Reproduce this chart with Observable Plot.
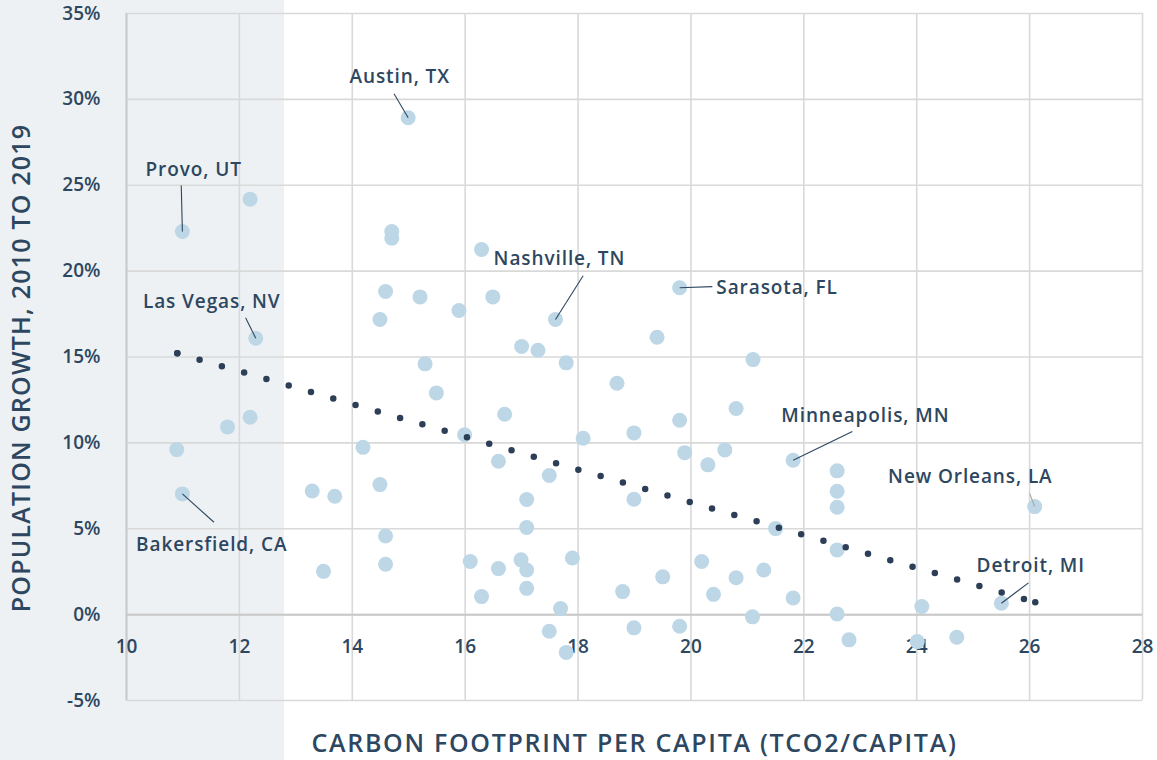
<!DOCTYPE html>
<html><head><meta charset="utf-8">
<script src="https://cdn.jsdelivr.net/npm/d3@7"></script>
<script src="https://cdn.jsdelivr.net/npm/@observablehq/plot@0.6"></script>
<style>
html,body{margin:0;padding:0;background:#fff;}
#chart{width:1157px;height:760px;}
</style></head><body><div id="chart"></div>
<script>
// ---- data ----
const carbon = [10.99,12.19,12.29,12.19,11.79,10.89,10.99,
  14.99,14.70,14.70,16.29,14.59,15.20,14.49,15.89,16.49,17.60,17.00,17.29,17.79,15.29,15.49,16.70,15.99,16.59,14.19,14.49,13.29,13.69,17.49,17.09,17.09,14.59,14.59,13.49,16.09,16.59,16.99,17.09,17.09,16.29,17.90,17.69,17.49,17.79,
  19.80,19.40,18.69,18.09,18.99,19.80,20.80,21.10,19.89,20.30,20.60,21.81,18.99,21.50,22.59,22.59,22.59,22.59,20.19,19.50,20.80,21.29,18.79,20.40,21.81,21.09,22.59,18.99,19.80,22.80,24.09,24.01,24.71,25.50,26.09];
const growth = [22.31,24.19,16.09,11.49,10.93,9.61,7.03,
  28.93,22.31,21.92,21.26,18.81,18.50,17.18,17.71,18.50,17.18,15.61,15.39,14.66,14.60,12.91,11.67,10.47,8.93,9.74,7.57,7.20,6.89,8.10,6.70,5.07,4.58,2.93,2.52,3.09,2.68,3.19,2.60,1.53,1.05,3.30,0.35,-0.97,-2.20,
  19.03,16.15,13.47,10.27,10.58,11.32,12.00,14.85,9.43,8.72,9.59,8.99,6.72,5.01,8.37,7.18,6.25,3.77,3.09,2.20,2.15,2.60,1.34,1.18,0.97,-0.13,0.04,-0.77,-0.68,-1.47,0.47,-1.57,-1.32,0.66,6.29];

const trendX = [10.9, 26.1];
const trendY = [15.22, 0.72];

const xTicks = [10,12,14,16,18,20,22,24,26,28];
const yTicks = [-5,0,5,10,15,20,25,30,35];
const shadeLimit = 12.8;

const annCity   = ["Provo, UT","Las Vegas, NV","Bakersfield, CA","Austin, TX","Nashville, TN","Sarasota, FL","Minneapolis, MN","New Orleans, LA","Detroit, MI"];
const annPtX    = [10.99,12.29,10.99,14.99,17.60,19.80,21.81,26.09,25.50];
const annPtY    = [22.31,16.09,7.03,28.93,17.18,19.03,8.99,6.29,0.66];
const annLeadX  = [10.97,12.11,11.55,14.74,18.09,20.38,22.86,26.00,25.98];
const annLeadY  = [24.98,17.28,5.38,30.33,19.73,19.10,10.66,7.06,1.85];
const annTextX  = [11.19,11.51,11.51,14.84,17.67,20.45,23.09,24.95,26.02];
const annTextY  = [25.90,18.23,4.08,31.33,20.73,19.03,11.59,8.04,2.81];
const annAlign  = ["middle","middle","middle","middle","middle","start","middle","middle","middle"];
const annLeadColor = ["#2d4760","#2d4760","#2d4760","#2d4760","#2d4760","#2d4760","#2d4760","#a6a6a6","#2d4760"];

const xTitle = "CARBON FOOTPRINT PER CAPITA (TCO2/CAPITA)";
const yTitle = "POPULATION GROWTH, 2010 TO 2019";

// ---- build ----
const points = carbon.map((x, i) => ({x, y: growth[i]}));
const trend = trendX.map((x, i) => ({x, y: trendY[i]}));
const ann = annCity.map((city, i) => ({
  city, px: annPtX[i], py: annPtY[i], lx: annLeadX[i], ly: annLeadY[i],
  tx: annTextX[i], ty: annTextY[i], align: annAlign[i], lc: annLeadColor[i]
}));

const ink = "#2d4760";
const font = "'Open Sans', sans-serif";

const chart = Plot.plot({
  width: 1157, height: 760,
  marginLeft: 126, marginRight: 15, marginTop: 13, marginBottom: 60,
  x: {domain: [10, 28]},
  y: {domain: [-5, 35]},
  style: {fontFamily: font, color: ink, overflow: "visible"},
  marks: [
    Plot.gridX(xTicks, {stroke: "#d9d9d9", strokeOpacity: 1, strokeWidth: 1.6}),
    Plot.gridY(yTicks, {stroke: "#d9d9d9", strokeOpacity: 1, strokeWidth: 1.6}),
    Plot.ruleX([10], {stroke: "#c9c9c9", strokeWidth: 2}),
    Plot.ruleY([0], {stroke: "#c9c9c9", strokeWidth: 2}),
    Plot.axisY(yTicks, {tickSize: 0, tickPadding: 26, tickFormat: d => d + "%", fontSize: 19, fontWeight: 600, fill: ink, label: null}),
    Plot.axisX({ticks: [], label: null, tickSize: 0}),
    Plot.text(xTicks, {x: d => d, y: 0, dy: 32, text: d => String(d), fontSize: 19, fontWeight: 600, fill: ink}),
    Plot.dot(points, {x: "x", y: "y", r: 7.5, fill: "#bdd7e7"}),
    Plot.link(ann, {x1: "px", y1: "py", x2: "lx", y2: "ly", stroke: "lc", strokeWidth: 1.1}),
    Plot.line(trend, {x: "x", y: "y", stroke: "#2c3f57", strokeWidth: 6.5, strokeLinecap: "round", strokeDasharray: "0 23.2"}),
    Plot.dot(trend, {x: "x", y: "y", r: 3.25, fill: "#2c3f57"}),
    Plot.text(ann.filter(d => d.align === "middle"), {x: "tx", y: "ty", text: "city", fontSize: 19, fontWeight: 600, fill: ink, textAnchor: "middle"}),
    Plot.text(ann.filter(d => d.align === "start"), {x: "tx", y: "ty", text: "city", fontSize: 19, fontWeight: 600, fill: ink, textAnchor: "start"}),
    Plot.text([xTitle], {frameAnchor: "bottom", dy: 43, text: d => d, fontSize: 25, fontWeight: 600, fill: ink, textAnchor: "middle", lineAnchor: "middle"}),
    Plot.text([yTitle], {frameAnchor: "left", dx: -105, dy: 11, rotate: -90, text: d => d, fontSize: 25, fontWeight: 600, fill: ink, textAnchor: "middle", lineAnchor: "middle"})
  ]
});

// letter spacing to approximate the wide geometric typeface of the original
chart.querySelectorAll("text").forEach(t => {
  const s = t.textContent;
  if (s === xTitle) t.style.letterSpacing = "1.7px";
  else if (s === yTitle) t.style.letterSpacing = "1.2px";
  else if (annCity.includes(s)) t.style.letterSpacing = "0.9px";
});

// shaded low-footprint band from page edge to the shade limit, positioned by the x scale
const edge = chart.scale("x").apply(shadeLimit);
chart.style.background = `linear-gradient(to right, #eef1f4 0px, #eef1f4 ${edge}px, #ffffff ${edge}px)`;
document.getElementById("chart").appendChild(chart);
</script>
</body></html>
